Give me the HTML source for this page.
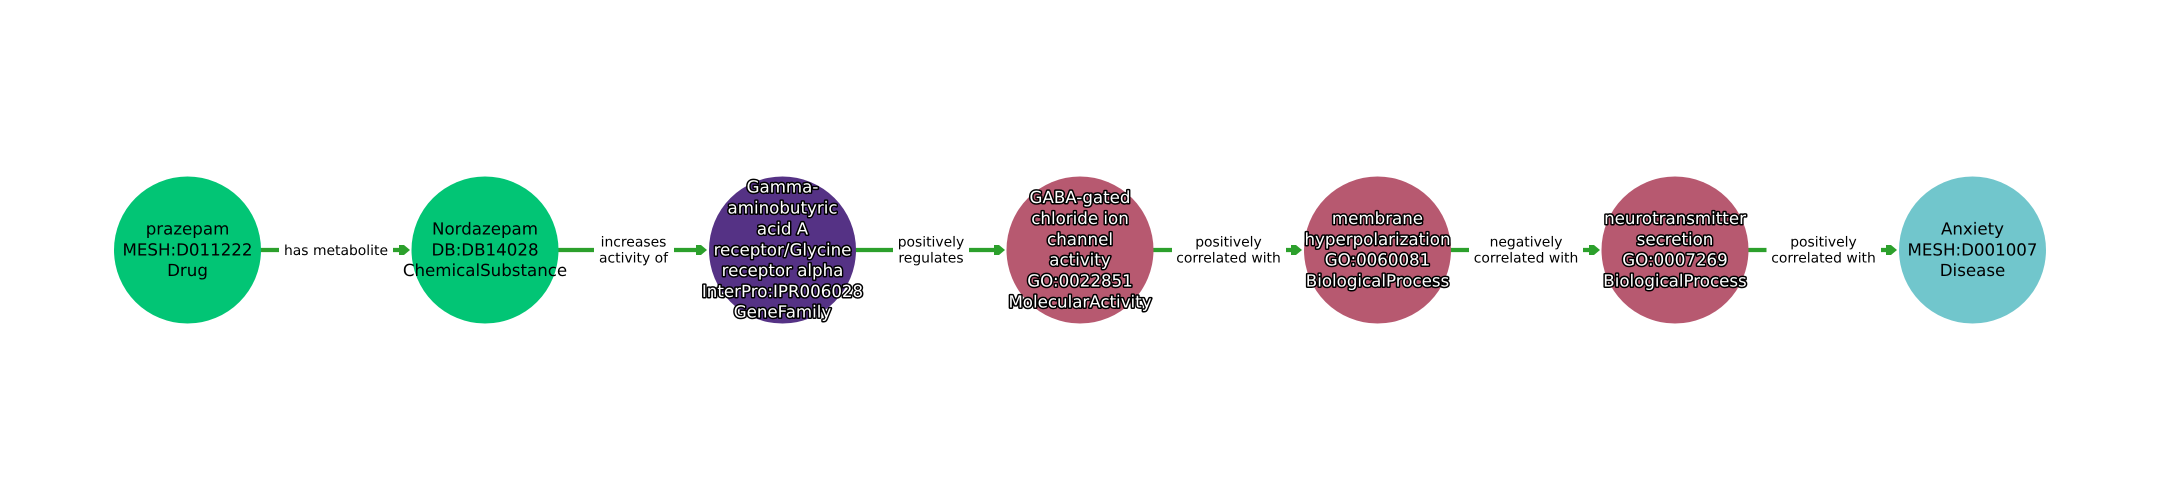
<!DOCTYPE html>
<html>
<head>
<meta charset="utf-8">
<style>
html,body{margin:0;padding:0;background:#fff;width:2160px;height:500px;overflow:hidden}
svg{display:block}
text{font-family:"DejaVu Sans",sans-serif;text-anchor:middle;text-rendering:geometricPrecision}
.n{font-size:16.67px;fill:#000}
.w{font-size:16.67px;fill:#fff;stroke:#000;stroke-width:3px;paint-order:stroke;stroke-linejoin:round}
.e{font-size:13.9px;fill:#000}
.l{stroke:#2ca02c;stroke-width:4.2;fill:none}
.a{fill:#2ca02c}
</style>
</head>
<body>
<svg width="2160" height="500" viewBox="0 0 2160 500" xmlns="http://www.w3.org/2000/svg">
<rect width="2160" height="500" fill="#fff"/>

<!-- edges -->
<path class="l" d="M260 250H279M393 250H404"/>
<path class="l" d="M557 250H594M674 250H701"/>
<path class="l" d="M855 250H893M969 250H999"/>
<path class="l" d="M1152 250H1172M1286 250H1296"/>
<path class="l" d="M1450 250H1469M1583 250H1594"/>
<path class="l" d="M1747 250H1766.500M1881 250H1891"/>
<polygon class="a" points="399,245 404,245 410,250 404,255 399,255"/>
<polygon class="a" points="696,245 701,245 707,250 701,255 696,255"/>
<polygon class="a" points="994,245 999,245 1005,250 999,255 994,255"/>
<polygon class="a" points="1291,245 1296,245 1302,250 1296,255 1291,255"/>
<polygon class="a" points="1589,245 1594,245 1600,250 1594,255 1589,255"/>
<polygon class="a" points="1886,245 1891,245 1897,250 1891,255 1886,255"/>

<!-- nodes -->
<circle cx="187.500" cy="250" r="73.500" fill="#02c575"/>
<circle cx="485" cy="250" r="73.500" fill="#02c575"/>
<circle cx="782.500" cy="250" r="73.500" fill="#553285"/>
<circle cx="1080" cy="250" r="73.500" fill="#b75970"/>
<circle cx="1377.500" cy="250" r="73.500" fill="#b75970"/>
<circle cx="1675" cy="250" r="73.500" fill="#b75970"/>
<circle cx="1972.500" cy="250" r="73.500" fill="#71c6cc"/>

<!-- edge labels -->
<text class="e" x="336" y="255">has metabolite</text>
<text class="e" x="633.500" y="246.500">increases</text>
<text class="e" x="633.500" y="262.500">activity of</text>
<text class="e" x="931" y="246.500">positively</text>
<text class="e" x="931" y="262.500">regulates</text>
<text class="e" x="1228.500" y="246.500">positively</text>
<text class="e" x="1228.500" y="262.500">correlated with</text>
<text class="e" x="1526" y="246.500">negatively</text>
<text class="e" x="1526" y="262.500">correlated with</text>
<text class="e" x="1823.500" y="246.500">positively</text>
<text class="e" x="1823.500" y="262.500">correlated with</text>

<!-- node labels -->
<text class="n" x="187.500" y="234.500">prazepam</text>
<text class="n" x="187.500" y="255.500">MESH:D011222</text>
<text class="n" x="187.500" y="276">Drug</text>

<text class="n" x="485" y="234.500">Nordazepam</text>
<text class="n" x="485" y="255.500">DB:DB14028</text>
<text class="n" x="485" y="276">ChemicalSubstance</text>

<text class="w" x="782.500" y="192.500">Gamma-</text>
<text class="w" x="782.500" y="213.500">aminobutyric</text>
<text class="w" x="782.500" y="234.500">acid A</text>
<text class="w" x="782.500" y="255.500">receptor/Glycine</text>
<text class="w" x="782.500" y="276">receptor alpha</text>
<text class="w" x="782.500" y="297">InterPro:IPR006028</text>
<text class="w" x="782.500" y="317.500">GeneFamily</text>

<text class="w" x="1080" y="203">GABA-gated</text>
<text class="w" x="1080" y="224">chloride ion</text>
<text class="w" x="1080" y="245">channel</text>
<text class="w" x="1080" y="265.500">activity</text>
<text class="w" x="1080" y="286.500">GO:0022851</text>
<text class="w" x="1080" y="307.500">MolecularActivity</text>

<text class="w" x="1377.500" y="224">membrane</text>
<text class="w" x="1377.500" y="245">hyperpolarization</text>
<text class="w" x="1377.500" y="265.500">GO:0060081</text>
<text class="w" x="1377.500" y="286.500">BiologicalProcess</text>

<text class="w" x="1675" y="224">neurotransmitter</text>
<text class="w" x="1675" y="245">secretion</text>
<text class="w" x="1675" y="265.500">GO:0007269</text>
<text class="w" x="1675" y="286.500">BiologicalProcess</text>

<text class="n" x="1972.500" y="234.500">Anxiety</text>
<text class="n" x="1972.500" y="255.500">MESH:D001007</text>
<text class="n" x="1972.500" y="276">Disease</text>
</svg>
</body>
</html>
